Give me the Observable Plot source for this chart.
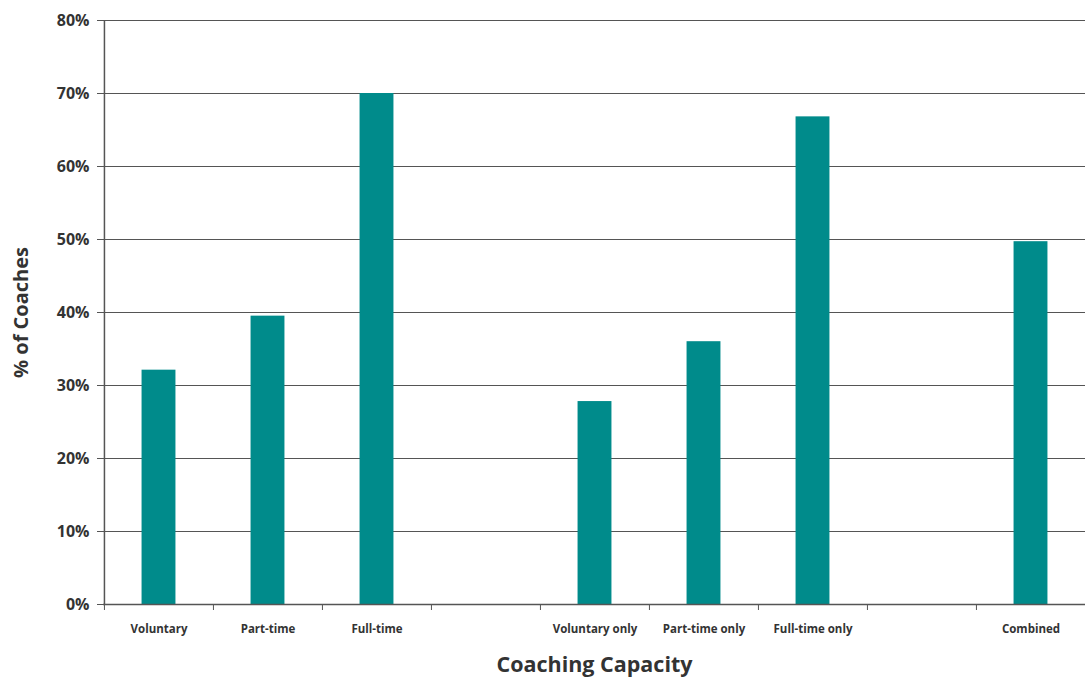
<!DOCTYPE html>
<html>
<head>
<meta charset="utf-8">
<script src="https://cdn.jsdelivr.net/npm/d3@7"></script>
<script src="https://cdn.jsdelivr.net/npm/@observablehq/plot@0.6"></script>
<style>
  html, body { margin: 0; padding: 0; background: #fff; }
  #chart { width: 1085px; height: 679px; }
  svg { font-family: "Open Sans", "Noto Sans", sans-serif; }
</style>
</head>
<body>
<div id="chart"></div>
<script>
const categories = ["Voluntary", "Part-time", "Full-time", "gap1", "Voluntary only", "Part-time only", "Full-time only", "gap2", "Combined"];
const values = [32.1, 39.5, 70.0, null, 27.8, 36.0, 66.8, null, 49.7];
const yTicks = [0, 10, 20, 30, 40, 50, 60, 70, 80];
const blankCategories = ["gap1", "gap2"];

const data = categories.map((c, i) => ({category: c, value: values[i]})).filter(d => d.value != null);

const width = 1085, height = 679;
const marginLeft = 103, marginRight = 0, marginTop = 20, marginBottom = 75;
const step = (width - marginLeft - marginRight) / categories.length;
const ink = "#333";

const chart = Plot.plot({
  width, height, marginLeft, marginRight, marginTop, marginBottom,
  style: {fontFamily: "'Open Sans', 'Noto Sans', sans-serif", color: ink, background: "#fff"},
  x: {domain: categories, padding: 0, label: null},
  y: {domain: [0, 80], label: null},
  marks: [
    Plot.gridY(yTicks, {stroke: "#555", strokeOpacity: 1, strokeWidth: 1}),
    Plot.barY(data, {x: "category", y: "value", fill: "#008b8b", insetLeft: (step - 34) / 2, insetRight: (step - 34) / 2}),
    Plot.ruleY([0], {stroke: "#555", strokeWidth: 1.5}),
    Plot.ruleX([categories[0]], {x: d => d, dx: -step / 2, y1: 0, y2: 80, stroke: "#555", strokeWidth: 1.5}),
    Plot.axisY({ticks: yTicks, tickFormat: d => d + "%", tickSize: 6, tickPadding: 8, fontSize: 16, fontWeight: "bold", stroke: "#555", fill: ink, label: null}),
    Plot.axisX({tickSize: 6, dx: -step / 2, text: null, stroke: "#555"}),
    Plot.axisX({tickSize: 0, tickPadding: 20, tickFormat: d => blankCategories.includes(d) ? "" : d, fontSize: 11.5, fontWeight: "bold", fill: ink, label: null}),
    Plot.text(["Coaching Capacity"], {frameAnchor: "bottom", dy: 67, fontSize: 21.5, fontWeight: "bold", fill: ink, text: d => d}),
    Plot.text(["% of Coaches"], {frameAnchor: "left", textAnchor: "middle", dx: -82, rotate: -90, fontSize: 20, fontWeight: "bold", fill: ink, text: d => d})
  ]
});
document.getElementById("chart").appendChild(chart);
</script>
</body>
</html>
